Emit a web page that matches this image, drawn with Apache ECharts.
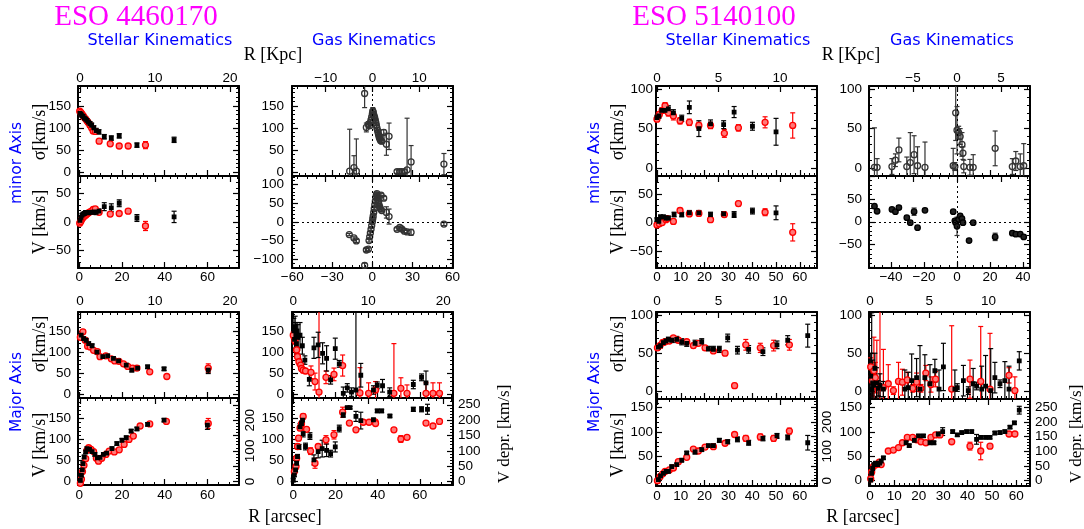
<!DOCTYPE html>
<html>
<head>
<meta charset="utf-8">
<script src="https://cdn.jsdelivr.net/npm/echarts@6/dist/echarts.min.js"></script>
<style>
html,body{margin:0;padding:0;background:#fff}
#chart{width:1084px;height:529px}
</style>
</head>
<body>
<div id="chart"></div>
<script>
// ---- data: [R arcsec, value km/s, error] ----
// ESO 4460170
const g1MinSigSk = [[0.3,133,4],[0.8,131,4],[1.3,128,4],[1.8,126,4],[2.4,122,4],[3,120,4],[3.6,117,4],[4.3,113,4],[5,110,4],[5.8,106,5],[6.8,100,5],[7.9,94,5],[9.2,91,5],[11.7,80,5],[15,77,5],[18.7,82,5],[27,61,5],[44.4,73,6]];
const g1MinSigSr = [[0.2,138,4],[0.7,135,4],[1.2,132,4],[1.8,128,4],[2.3,124,4],[3,120,4],[3.6,116,4],[4.2,112,4],[5,106,4],[5.8,100,4],[6.5,93,4],[7.5,92,4],[9.3,70,4],[14.5,64,4],[18.7,59,4],[22.9,59,4],[31,61,8]];
const g1MinVSk = [[0.3,3,3],[0.8,8,3],[1.3,12,3],[1.8,14,3],[2.4,15,3],[3,17,3],[3.6,17,3],[4.3,16,3],[5,17,3],[5.8,17,3],[6.8,18,4],[7.9,17,4],[9.2,19,4],[11.7,27,7],[15,25,7],[18.7,33,6],[27,7,6],[44.4,9,10]];
const g1MinVSr = [[0.2,-2,3],[0.7,1,3],[1.2,5,3],[1.8,8,3],[2.3,10,3],[3,12,3],[3.6,14,3],[4.2,16,3],[5,18,3],[5.8,19,3],[6.5,22,3],[7.5,23,3],[9.3,17,3],[14.5,14,3],[18.7,15,3],[22.9,19,4],[31,-7,8]];
const g1MinSigG = [[-17,2,95],[-13.8,10,27],[-12,2,73],[-5.8,178,32],[-4.5,101,10],[-3,108,6],[-2,105,6],[-1.5,112,6],[-1,118,6],[-0.5,125,6],[0,132,8],[0.3,138,8],[0.6,136,8],[1,130,6],[1.4,126,6],[1.8,122,6],[2.2,117,6],[2.6,112,6],[3,106,6],[3.4,100,6],[3.8,95,6],[4.2,90,6],[4.6,85,6],[5,80,6],[5.5,76,6],[6,72,6],[6.5,79,6],[7,70,6],[8.5,90,6],[10.5,63,25],[12.5,81,30],[18.5,1,4],[20.5,1,4],[22,1,4],[24,1,4],[26,5,117],[29,23,37],[53.6,18,24]];
const g1MinVG = [[-17.3,-34,3],[-13.8,-43,3],[-12,-51,4],[-5.8,-116,6],[-4.5,-75,4],[-3,-73,4],[-2.5,-50,4],[-2,-40,4],[-1.5,-30,4],[-1,-20,4],[-0.5,-10,4],[0,0,4],[0.3,8,4],[0.6,15,4],[1,25,4],[1.4,35,4],[1.8,45,4],[2.2,55,4],[2.6,65,4],[3,72,4],[3.4,75,4],[3.8,68,4],[4.2,60,4],[4.6,52,4],[5,45,4],[5.5,40,4],[6,35,4],[6.5,71,5],[7,30,4],[8.5,63,5],[10.5,25,15],[12.5,14,20],[18.5,-20,4],[20.5,-15,4],[22,-19,4],[24,-25,4],[26,-27,4],[29,-28,8],[53.6,-6,4]];
const g1MajSigSk = [[0.9,140,5],[2,132,4],[3.2,128,4],[4.4,120,4],[6,115,4],[8.3,100,4],[11,89,4],[13.3,91,4],[16,85,4],[18.4,79,4],[22,69,4],[24.6,57,4],[27.3,62,4],[32,65,4],[39.7,60,4],[60.4,57,8]];
const g1MajSigSr = [[0.5,135,4],[1.7,148,5],[2.8,128,4],[3.9,114,4],[5.1,112,4],[6.7,104,4],[8.5,101,4],[9.7,89,4],[12.4,91,4],[15,84,4],[16.6,79,4],[18.6,78,4],[20.7,72,4],[22.7,66,4],[25,62,4],[27,62,4],[33,53,4],[41,42,4],[60.4,62,10]];
const g1MajVSk = [[0.5,2,4],[1,14,4],[1.4,27,4],[1.7,42,4],[2.3,58,4],[3,70,4],[3.6,78,4],[4.8,76,4],[6,71,4],[7.3,64,4],[8.5,56,4],[9.7,57,4],[11.3,64,4],[12.8,67,4],[15.3,78,4],[17.6,90,4],[20,98,4],[22,104,4],[24.3,120,4],[27,125,4],[32,136,4],[39.7,146,4],[60,134,10]];
const g1MajVSr = [[0.5,-5,4],[1,5,4],[1.5,23,4],[2.2,38,4],[3,54,4],[3.6,74,4],[4.4,80,4],[5.5,76,4],[6.7,71,4],[8,55,4],[9,48,4],[10.5,55,4],[12.5,64,4],[14,72,4],[16.4,70,4],[18.7,75,4],[21,88,4],[23.3,100,4],[25.3,108,4],[28.5,132,4],[33,137,4],[40.8,143,4],[60.4,138,12]];
const g1MajSigGk = [[0.3,150,30],[0.6,130,25],[0.9,160,25],[1.2,140,30],[1.5,120,25],[1.8,150,20],[2.2,135,30],[3.2,140,30],[4.3,115,20],[5.5,81,10],[7.6,35,15],[9.8,110,25],[11.8,117,30],[13.9,97,25],[15.8,85,30],[17.7,34,10],[19.9,108,25],[21.8,72,8],[23.7,2,15],[25.6,15,10],[27.6,5,10],[29.7,10,300],[32,45,28],[38,10,10],[39.8,21,8],[42.3,20,15],[45.7,5,10],[56.9,23,10],[60.8,40,8],[62.9,27,28]];
const g1MajSigGr = [[0,140,8],[0.8,127,8],[1.6,105,8],[2,89,8],[2.7,77,8],[3.5,69,8],[3.9,61,6],[4.7,57,6],[5.8,55,6],[8.4,52,15],[10.3,30,20],[12.2,5,200],[15.5,40,15],[19.3,47,15],[23.4,68,25],[31.6,3,60],[35.7,2,25],[39,10,20],[47.7,2,118],[51,14,25],[53.9,2,20],[62.9,2,25],[66.2,2,25],[69.3,2,25]];
const g1MajVGk = [[0,3,4],[0.5,15,4],[1.1,27,5],[1.6,43,5],[2,59,5],[2.7,82,6],[3.2,130,8],[3.9,138,6],[4.4,146,6],[4.7,114,8],[5.8,83,8],[7.9,108,8],[9.8,51,12],[11.8,71,15],[13.7,78,20],[15.8,74,15],[17.7,66,8],[19.9,82,12],[21.8,126,8],[23.7,159,6],[25.6,176,3],[26.9,176,3],[29.7,155,12],[32,145,20],[38,147,3],[39.8,168,4],[41.9,168,4],[45.8,156,3],[56.9,172,5],[60.8,172,6],[63.6,172,12]];
const g1MajVGr = [[0.5,23,6],[1.3,35,6],[1.6,55,6],[2,83,6],[2.5,103,6],[3.2,127,6],[3.9,137,6],[4.7,155,6],[6.3,124,5],[8.2,72,8],[10.3,43,12],[11.8,83,5],[15.5,99,10],[19.3,111,10],[23.4,165,12],[26.6,139,3],[29.7,123,3],[33.2,141,3],[35.9,141,3],[38.8,142,3],[39,138,3],[47.7,123,3],[51,101,8],[53.9,105,3],[62.9,139,3],[66.2,132,3],[69.3,143,3]];

// ESO 5140100
const g2MinSigSk = [[0,64,3],[0.8,66,3],[2,73,3],[3.4,73,3],[4.8,75,4],[6.9,70,4],[10.4,63,4],[13.6,77,8],[17.6,50,10],[22.5,56,5],[28,55,5],[32.4,71,7],[40.1,53,5],[50,46,17]];
const g2MinSigSr = [[0,62,3],[1,68,3],[2.2,73,3],[3.4,79,4],[4.8,70,4],[6.9,66,5],[9.7,60,4],[13.6,58,4],[17.6,54,4],[22.5,54,4],[28.3,44,5],[34.2,51,4],[45.4,58,7],[57,54,16]];
const g2MinVSk = [[0,5,3],[0.8,2,3],[1.5,10,3],[2.7,10,3],[3.8,8,3],[4.8,8,3],[7.2,14,4],[10.4,14,4],[13.6,17,4],[17.6,17,4],[22.5,14,4],[28,15,4],[32.4,14,5],[40.1,20,5],[50,17,12]];
const g2MinVSr = [[0,-4,3],[1,-2,3],[2.2,0,3],[3.8,5,3],[4.3,7,3],[6.9,2,4],[9.7,21,4],[13.6,15,4],[17.6,16,4],[22.5,5,4],[28.3,14,4],[34.2,33,4],[45.4,18,6],[57,-17,15]];
const g2MinSigG = [[-50,1,50],[-48.4,1,11],[-39.4,2,10],[-37.3,10,8],[-35.2,23,15],[-30.4,2,12],[-28.3,7,38],[-26,17,24],[-23.9,3,24],[-19.4,1,32],[-2.3,3,22],[-1.3,2,5],[-0.8,70,35],[0,48,30],[1,45,8],[1.9,40,10],[3,30,15],[3.6,19,8],[4.1,2,8],[7.8,1,10],[9.8,1,16],[23.1,25,22],[33.5,2,10],[35.6,9,12],[38.3,2,16],[40.4,3,28]];
const g2MinVG = [[-50,34,3],[-48.4,23,3],[-39.4,27,3],[-37.3,22,3],[-35.2,31,4],[-30.4,9,3],[-28.3,-2,3],[-26,22,8],[-23.9,-13,3],[-19.4,25,3],[-2.3,22,3],[-1.3,2,3],[-0.8,-2,3],[0,-10,20],[1,5,3],[1.9,13,3],[3,7,3],[3.6,-2,3],[7.3,-41,3],[9.8,-2,3],[23.1,-33,8],[33.5,-25,3],[35.6,-27,3],[38.3,-27,3],[40.4,-33,3]];
const g2MajSigSk = [[0.6,58,3],[1.5,60,3],[2.7,64,3],[3.8,66,3],[4.8,68,3],[6.2,67,3],[8.3,68,4],[10.4,65,4],[12.5,63,4],[16,63,4],[18.8,65,4],[21.6,56,3],[23.7,55,4],[26.2,55,4],[29.7,70,5],[33.8,54,5],[38.5,55,5],[44.5,52,5],[50.4,61,5],[54.9,67,6],[63.3,73,15]];
const g2MajSigSr = [[0.2,57,3],[1.3,60,3],[2.4,64,3],[3.4,65,3],[5.2,66,3],[6.9,70,3],[9,67,3],[12.5,65,3],[15.3,60,3],[17.4,63,3],[20.2,57,3],[23.7,53,3],[28.6,50,3],[32.6,7.5,3],[37.3,61,7],[43.4,57,6],[49,60,7],[55.6,61,7]];
const g2MajVSk = [[0.6,2,3],[1.5,10,3],[2.7,15,3],[3.8,19,3],[4.8,19,3],[6.2,29,3],[8.3,33,3],[10.4,42,3],[12.5,57,3],[16,59,4],[18.8,64,4],[21.6,72,3],[23.7,72,4],[26.2,83,4],[29.7,80,4],[33.8,85,5],[38.5,78,5],[44.5,87,5],[50.4,92,5],[54.9,89,5],[63.3,78,15]];
const g2MajVSr = [[0.2,0,3],[1.3,8,3],[2.4,14,3],[3.4,19,3],[5.2,22,3],[6.9,26,3],[9,39,3],[12.5,48,3],[15.3,65,3],[17.4,61,3],[20.2,69,3],[23.7,70,3],[28.6,77,3],[32.6,95,3],[37.3,87,6],[43.4,90,6],[49,87,6],[55.6,102,6]];
const g2MajSigGk = [[0.3,20,30],[0.7,3,100],[1.1,11,30],[1.6,8,25],[2,30,20],[2.7,11,20],[3.4,4,10],[4.1,8,15],[5.5,3,10],[14.3,3,25],[15.7,5,20],[17.1,14,35],[19.1,18,25],[20.5,3,57],[22.5,18,30],[24.6,10,25],[26.6,27,15],[28.3,3,25],[30.1,32,31],[34.8,3,25],[35.8,5,5],[38.3,14,20],[40.3,1,5],[42.3,10,20],[43.7,7,5],[45.8,3,30],[47.4,7,40],[49.5,1,55],[51.2,18,20],[53.3,10,5],[55.3,14,25],[57,3,30],[61.2,40,12]];
const g2MajSigGr = [[0.3,32,12],[1,14,20],[1.6,27,44],[2.2,18,20],[2.8,7,60],[4.1,5,140],[5.5,5,50],[7.5,10,25],[9.6,1,5],[11.7,13,25],[13.3,12,17],[15.3,15,10],[17.5,4,5],[19.1,12,12],[20.9,4,5],[22.9,24,10],[25,9,10],[26.9,16,10],[33.5,3,83],[41,16,25],[45.4,13,72],[49.2,3,73],[57,21,10],[59.4,1,18]];
const g2MajVGk = [[0.3,1,3],[0.7,15,3],[1.1,25,3],[1.6,33,3],[2.3,36,3],[3.2,33,3],[4,36,3],[4.6,40,3],[5.5,47,3],[14.8,78,3],[16.1,72,3],[18.2,83,3],[19.9,92,3],[21.9,92,3],[24.6,78,3],[26.2,78,3],[28,96,3],[29.8,101,8],[33.9,101,3],[35.8,94,3],[37.6,99,3],[39.6,101,3],[41.7,101,3],[43.7,85,10],[45.4,89,3],[47.4,89,3],[49.2,89,3],[51.2,98,3],[53.3,99,3],[55.3,101,3],[57.4,110,3],[59.2,119,3],[61.2,145,8]];
const g2MajVGr = [[0.3,4,3],[0.7,18,3],[1.4,29,3],[2.7,33,3],[3.8,38,3],[4.6,33,3],[7.5,61,3],[9.6,63,3],[11.7,68,3],[13.3,78,3],[15.3,89,3],[17.5,89,3],[19.1,84,3],[20.9,80,3],[22.9,78,3],[25,89,3],[26.9,94,3],[28.7,94,3],[33.5,80,3],[41,71,8],[45.4,61,18],[49.2,71,3],[57,96,3],[59.4,96,3]];

// ---- tick labels ----
const g1ArcStar = [0,20,40,60];
const g1KpcStar = [0,10,20];
const g1ArcGasMin = [-60,-30,0,30,60];
const g1KpcGasMin = [-10,0,10];
const g1SigTicks = [0,50,100,150];
const g1VminStarTicks = [-50,0,50];
const g1VminGasTicks = [-100,-50,0,50,100];
const g1VmajTicks = [0,50,100,150];
const g2ArcTicks = [0,10,20,30,40,50,60];
const g2KpcTicks = [0,5,10];
const g2ArcGasMin = [-40,-20,0,20,40];
const g2KpcGasMin = [-5,0,5];
const g2SigTicks = [0,50,100];
const g2VminTicks = [-50,0,50];
const g2VmajTicks = [0,50,100,150];
const deprStarTicks = [0,100,200];
const deprGasTicks = [0,50,100,150,200,250];

const FONT = 'Liberation Sans';
const grids = [], xAxes = [], yAxes = [], series = [];

const multiples = (r, step) => {
  const out = [];
  for (let v = Math.ceil(r[0] / step - 1e-9) * step; v <= r[1] + 1e-9; v += step) out.push(+v.toFixed(6));
  return out;
};
const fmt = v => (v < 0 ? '\u2212' + (-v) : '' + v);

const STYLE = {
  k: {symbol: 'rect', size: 3.5, fill: '#000', stroke: '#000', err: '#000'},
  r: {symbol: 'circle', size: 6, fill: '#ff7a7a', stroke: '#ff0000', err: '#ff0000'},
  o: {symbol: 'circle', size: 6, fill: 'rgba(255,255,255,0)', stroke: '#333', err: '#333'},
  f: {symbol: 'circle', size: 5.5, fill: '#222', stroke: '#000', err: '#333'}
};

function addAxis(list, gi, pos, a, lab) {
  const common = {type: 'value', gridIndex: gi, position: pos, min: a.range[0], max: a.range[1],
    splitLine: {show: false}, minorTick: {show: false}};
  list.push(Object.assign({}, common, {
    axisLine: {show: true, onZero: false, lineStyle: {color: '#000', width: 2}},
    axisTick: {show: true, inside: true, length: 6, customValues: multiples(a.range, a.step), lineStyle: {color: '#000', width: 1.2}},
    axisLabel: lab ? {show: true, customValues: lab.values, formatter: fmt, color: '#000', fontFamily: FONT,
      fontSize: 13.5, margin: lab.margin, rotate: lab.rotate || 0} : {show: false}
  }));
  const idx = list.length - 1;
  list.push(Object.assign({}, common, {
    axisLine: {show: false, onZero: false},
    axisTick: {show: true, inside: true, length: 3, customValues: multiples(a.range, a.minor), lineStyle: {color: '#000', width: 1}},
    axisLabel: {show: false}
  }));
  return idx;
}

function addLayer(xi, yi, yr, data, st, zero) {
  const s = STYLE[st];
  series.push({
    type: 'custom', xAxisIndex: xi, yAxisIndex: yi, data: data, silent: true, z: 2,
    encode: {x: 0, y: 1},
    renderItem: (params, api) => {
      const x = api.value(0), y = api.value(1), e = api.value(2);
      const lo = Math.max(y - e, yr[0]), hi = Math.min(y + e, yr[1]);
      const a = api.coord([x, lo]), b = api.coord([x, hi]);
      const ls = {stroke: s.err, lineWidth: 1.2};
      const kids = [{type: 'line', shape: {x1: a[0], y1: a[1], x2: b[0], y2: b[1]}, style: ls}];
      if (y - e > yr[0]) kids.push({type: 'line', shape: {x1: a[0] - 2.5, y1: a[1], x2: a[0] + 2.5, y2: a[1]}, style: ls});
      if (y + e < yr[1]) kids.push({type: 'line', shape: {x1: b[0] - 2.5, y1: b[1], x2: b[0] + 2.5, y2: b[1]}, style: ls});
      return {type: 'group', children: kids};
    }
  });
  const sc = {
    type: 'scatter', xAxisIndex: xi, yAxisIndex: yi, data: data.map(d => [d[0], d[1]]), z: 3, silent: true,
    symbol: s.symbol, symbolSize: s.size,
    itemStyle: {color: s.fill, borderColor: s.stroke, borderWidth: 1.3, opacity: 1}
  };
  if (zero) {
    sc.markLine = {silent: true, symbol: 'none', label: {show: false}, animation: false,
      lineStyle: {color: '#000', width: 1, type: [2, 3]},
      data: zero.map(z => z === 'x' ? {xAxis: 0} : {yAxis: 0})};
  }
  series.push(sc);
}

function panel(p) {
  const gi = grids.length;
  grids.push({left: p.box[0], top: p.box[1], width: p.box[2], height: p.box[3], containLabel: false, outerBoundsMode: 'none'});
  const xi = addAxis(xAxes, gi, 'bottom', p.xb, p.xbLab);
  addAxis(xAxes, gi, 'top', p.xt, p.xtLab);
  const yi = addAxis(yAxes, gi, 'left', p.yl, p.ylLab);
  addAxis(yAxes, gi, 'right', p.yr || p.yl, p.yrLab);
  p.layers.forEach((l, i) => addLayer(xi, yi, p.yl.range, l[0], l[1], i === 0 ? p.zero : null));
}

// ---- axis scales ----
const A = {
  g1ArcS: {range: [-0.6, 74.8], step: 20, minor: 5},
  g1KpcS: {range: [-0.27, 21.2], step: 10, minor: 1},
  g1ArcGmin: {range: [-60.2, 60.4], step: 30, minor: 5},
  g1KpcGmin: {range: [-17.2, 17.2], step: 10, minor: 2},
  g1ArcGmaj: {range: [-0.6, 75.7], step: 20, minor: 5},
  g1KpcGmaj: {range: [-0.17, 21.3], step: 10, minor: 1},
  g1Sig: {range: [-9, 195], step: 50, minor: 10},
  g1VminS: {range: [-81, 81], step: 50, minor: 10},
  g1VminG: {range: [-123, 122], step: 50, minor: 10},
  g1Vmaj: {range: [-9, 199], step: 50, minor: 10},
  g1Depr: {range: [-11, 272], step: 50, minor: 10},
  g2ArcS: {range: [-0.4, 67.2], step: 10, minor: 2},
  g2KpcS: {range: [-0.08, 13.0], step: 5, minor: 1},
  g2ArcGmin: {range: [-53.3, 44.2], step: 20, minor: 5},
  g2KpcGmin: {range: [-10, 8.3], step: 5, minor: 1},
  g2ArcGmaj: {range: [-0.4, 65.6], step: 10, minor: 2},
  g2KpcGmaj: {range: [-0.08, 13.5], step: 5, minor: 1},
  g2Sig: {range: [-10, 104], step: 50, minor: 10},
  g2VminS: {range: [-79, 81], step: 50, minor: 10},
  g2VminG: {range: [-101, 100], step: 50, minor: 10},
  g2Vmaj: {range: [-11, 168], step: 50, minor: 10},
  g2Depr: {range: [-18, 278], step: 50, minor: 10}
};

// ---- ESO 4460170 ----
panel({box: [78, 86, 161, 90], xb: A.g1ArcS, xt: A.g1KpcS, xtLab: {values: g1KpcStar, margin: 1},
  yl: A.g1Sig, ylLab: {values: g1SigTicks, margin: 7}, layers: [[g1MinSigSr, 'r'], [g1MinSigSk, 'k']]});
panel({box: [78, 176, 161, 92], xb: A.g1ArcS, xbLab: {values: g1ArcStar, margin: 2}, xt: A.g1KpcS,
  yl: A.g1VminS, ylLab: {values: g1VminStarTicks, margin: 7}, layers: [[g1MinVSr, 'r'], [g1MinVSk, 'k']]});
panel({box: [292, 86, 161, 90], xb: A.g1ArcGmin, xt: A.g1KpcGmin, xtLab: {values: g1KpcGasMin, margin: 1},
  yl: A.g1Sig, ylLab: {values: g1SigTicks, margin: 8}, layers: [[g1MinSigG, 'o']], zero: ['x']});
panel({box: [292, 176, 161, 92], xb: A.g1ArcGmin, xbLab: {values: g1ArcGasMin, margin: 2}, xt: A.g1KpcGmin,
  yl: A.g1VminG, ylLab: {values: g1VminGasTicks, margin: 8}, layers: [[g1MinVG, 'o']], zero: ['x', 'y']});
panel({box: [78, 312, 161, 86], xb: A.g1ArcS, xt: A.g1KpcS, xtLab: {values: g1KpcStar, margin: 4},
  yl: A.g1Sig, ylLab: {values: g1SigTicks, margin: 7}, layers: [[g1MajSigSr, 'r'], [g1MajSigSk, 'k']]});
panel({box: [78, 398, 161, 87], xb: A.g1ArcS, xbLab: {values: g1ArcStar, margin: 3}, xt: A.g1KpcS,
  yl: A.g1Vmaj, ylLab: {values: g1VmajTicks, margin: 7}, yr: A.g1Depr, yrLab: {values: deprStarTicks, margin: 4, rotate: 90},
  layers: [[g1MajVSr, 'r'], [g1MajVSk, 'k']]});
panel({box: [292, 312, 161, 86], xb: A.g1ArcGmaj, xt: A.g1KpcGmaj, xtLab: {values: g1KpcStar, margin: 4},
  yl: A.g1Sig, ylLab: {values: g1SigTicks, margin: 8}, layers: [[g1MajSigGr, 'r'], [g1MajSigGk, 'k']]});
panel({box: [292, 398, 161, 87], xb: A.g1ArcGmaj, xbLab: {values: g1ArcStar, margin: 3}, xt: A.g1KpcGmaj,
  yl: A.g1Vmaj, ylLab: {values: g1VmajTicks, margin: 8}, yr: A.g1Depr, yrLab: {values: deprGasTicks, margin: 5},
  layers: [[g1MajVGr, 'r'], [g1MajVGk, 'k']]});

// ---- ESO 5140100 ----
panel({box: [656, 86, 161, 90], xb: A.g2ArcS, xt: A.g2KpcS, xtLab: {values: g2KpcTicks, margin: 1},
  yl: A.g2Sig, ylLab: {values: g2SigTicks, margin: 3}, layers: [[g2MinSigSr, 'r'], [g2MinSigSk, 'k']]});
panel({box: [656, 176, 161, 92], xb: A.g2ArcS, xbLab: {values: g2ArcTicks, margin: 2}, xt: A.g2KpcS,
  yl: A.g2VminS, ylLab: {values: g2VminTicks, margin: 3}, layers: [[g2MinVSr, 'r'], [g2MinVSk, 'k']]});
panel({box: [869, 86, 161, 90], xb: A.g2ArcGmin, xt: A.g2KpcGmin, xtLab: {values: g2KpcGasMin, margin: 1},
  yl: A.g2Sig, ylLab: {values: g2SigTicks, margin: 7}, layers: [[g2MinSigG, 'o']], zero: ['x']});
panel({box: [869, 176, 161, 92], xb: A.g2ArcGmin, xbLab: {values: g2ArcGasMin, margin: 2}, xt: A.g2KpcGmin,
  yl: A.g2VminG, ylLab: {values: g2VminTicks, margin: 7}, layers: [[g2MinVG, 'f']], zero: ['x', 'y']});
panel({box: [656, 312, 161, 87], xb: A.g2ArcS, xt: A.g2KpcS, xtLab: {values: g2KpcTicks, margin: 4},
  yl: A.g2Sig, ylLab: {values: g2SigTicks, margin: 3}, layers: [[g2MajSigSr, 'r'], [g2MajSigSk, 'k']]});
panel({box: [656, 399, 161, 87], xb: A.g2ArcS, xbLab: {values: g2ArcTicks, margin: 3}, xt: A.g2KpcS,
  yl: A.g2Vmaj, ylLab: {values: g2VmajTicks, margin: 3}, yr: A.g2Depr, yrLab: {values: deprStarTicks, margin: 3, rotate: 90},
  layers: [[g2MajVSr, 'r'], [g2MajVSk, 'k']]});
panel({box: [869, 312, 161, 87], xb: A.g2ArcGmaj, xt: A.g2KpcGmaj, xtLab: {values: g2KpcTicks, margin: 4},
  yl: A.g2Sig, ylLab: {values: g2SigTicks, margin: 7}, layers: [[g2MajSigGr, 'r'], [g2MajSigGk, 'k']]});
panel({box: [869, 399, 161, 87], xb: A.g2ArcGmaj, xbLab: {values: g2ArcTicks, margin: 3}, xt: A.g2KpcGmaj,
  yl: A.g2Vmaj, ylLab: {values: g2VmajTicks, margin: 7}, yr: A.g2Depr, yrLab: {values: deprGasTicks, margin: 5},
  layers: [[g2MajVGr, 'r'], [g2MajVGk, 'k']]});

// ---- titles and axis names ----
const SERIF = '"Liberation Serif"', SANS = '"DejaVu Sans"';
const txt = (text, x, y, font, fill, rot) => ({
  type: 'text', x: x, y: y, rotation: rot ? Math.PI / 2 : 0, silent: true,
  style: {text: text, x: 0, y: 0, font: font, fill: fill || '#000', align: 'center', verticalAlign: 'middle',
    textAlign: 'center', textVerticalAlign: 'middle'}
});
const texts = [];
[[0, 0], [578, 1]].forEach(([dx, g]) => {
  texts.push(txt(g ? 'ESO 5140100' : 'ESO 4460170', 136 + dx, 17, '29px ' + SERIF, '#ff00ff'));
  texts.push(txt('Stellar Kinematics', 160 + dx, 41, '16px ' + SANS, '#0000ff'));
  texts.push(txt('Gas Kinematics', 374 + dx, 41, '16px ' + SANS, '#0000ff'));
  texts.push(txt('R [Kpc]', 273 + dx, 55, '18px ' + SERIF));
  texts.push(txt('minor Axis', 17 + dx, 163, '15.5px ' + SANS, '#0000ff', 1));
  texts.push(txt('Major Axis', 17 + dx, 392, '15.5px ' + SANS, '#0000ff', 1));
  texts.push(txt('\u03c3[km/s]', 40 + dx, 132, '18px ' + SERIF, '#000', 1));
  texts.push(txt('V [km/s]', 40 + dx, 222, '18px ' + SERIF, '#000', 1));
  texts.push(txt('\u03c3[km/s]', 40 + dx, 344, '18px ' + SERIF, '#000', 1));
  texts.push(txt('V [km/s]', 40 + dx, 445, '18px ' + SERIF, '#000', 1));
  texts.push(txt('R [arcsec]', 285 + dx, 517, '18px ' + SERIF));
  texts.push(txt('V depr. [km/s]', 505 + dx - (g ? 6 : 0), 434, '17px ' + SERIF, '#000', 1));
});

const chart = echarts.init(document.getElementById('chart'), null, {renderer: 'canvas'});
chart.setOption({
  animation: false,
  grid: grids,
  xAxis: xAxes,
  yAxis: yAxes,
  series: series,
  graphic: {elements: texts}
});
</script>
</body>
</html>
